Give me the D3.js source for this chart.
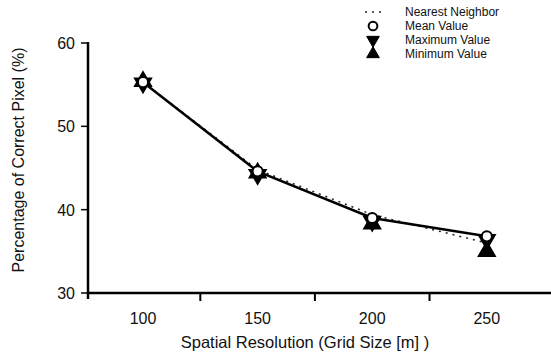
<!DOCTYPE html>
<html>
<head>
<meta charset="utf-8">
<script src="https://cdn.jsdelivr.net/npm/d3@7"></script>
<style>
  body { margin: 0; background: #fff; }
  text { font-family: Arial, "Liberation Sans", sans-serif; fill: #111; }
</style>
</head>
<body>
<div id="chart"></div>
<script>
// data
var gridSize = [100, 150, 200, 250];
var nearestNeighbor = [55.3, 44.8, 39.4, 36.0];
var meanValue = [55.3, 44.6, 39.0, 36.8];
var maximumValue = [55.2, 44.2, 38.6, 36.4];
var minimumValue = [55.4, 44.4, 38.3, 35.0];
var yTicks = [30, 40, 50, 60];
var xTicks = [100, 150, 200, 250];
var xMinor = [125, 175, 225];
var legendNames = ["Nearest Neighbor", "Mean Value", "Maximum Value", "Minimum Value"];

var w = 551, h = 359;

var svg = d3.select("#chart").append("svg")
  .attr("width", w).attr("height", h);

var x = d3.scaleLinear().domain([76, 278]).range([88, 551]);
var y = d3.scaleLinear().domain([30, 60]).range([293, 43]);

// axes
svg.append("line")
  .attr("x1", x(76)).attr("x2", x(278))
  .attr("y1", y(30)).attr("y2", y(30))
  .attr("stroke", "#000").attr("stroke-width", 2.5);
svg.append("line")
  .attr("x1", x(76)).attr("x2", x(76))
  .attr("y1", y(60) - 1).attr("y2", y(30) + 6)
  .attr("stroke", "#000").attr("stroke-width", 2.5);

// y ticks + labels
svg.selectAll(".ytick").data(yTicks).enter().append("line")
  .attr("x1", x(76) - 7).attr("x2", x(76))
  .attr("y1", d => y(d)).attr("y2", d => y(d))
  .attr("stroke", "#000").attr("stroke-width", 1.5);
svg.selectAll(".ylab").data(yTicks).enter().append("text")
  .attr("x", x(76) - 13).attr("y", d => y(d) + 6)
  .attr("text-anchor", "end").attr("font-size", 16)
  .text(d => d);

// x labels, minor ticks sit between them
svg.selectAll(".xtick").data(xMinor).enter().append("line")
  .attr("x1", d => x(d)).attr("x2", d => x(d))
  .attr("y1", y(30)).attr("y2", y(30) + 8)
  .attr("stroke", "#000").attr("stroke-width", 2);
svg.selectAll(".xlab").data(xTicks).enter().append("text")
  .attr("x", d => x(d)).attr("y", 324)
  .attr("text-anchor", "middle").attr("font-size", 16)
  .text(d => d);

// axis titles
svg.append("text")
  .attr("x", 305).attr("y", 348)
  .attr("text-anchor", "middle").attr("font-size", 16.5)
  .text("Spatial Resolution (Grid Size [m] )");
svg.append("text")
  .attr("transform", "translate(24,160) rotate(-90)")
  .attr("text-anchor", "middle").attr("font-size", 16)
  .text("Percentage of Correct Pixel (%)");

// lines
var lineGen = d3.line()
  .x((d, i) => x(gridSize[i]))
  .y(d => y(d));

svg.append("path")
  .attr("d", lineGen(nearestNeighbor))
  .attr("fill", "none").attr("stroke", "#222")
  .attr("stroke-width", 1.5).attr("stroke-dasharray", "2,5");
svg.append("path")
  .attr("d", lineGen(meanValue))
  .attr("fill", "none").attr("stroke", "#000")
  .attr("stroke-width", 2.5);

// markers
var sym = {
  mean: d3.symbol().type(d3.symbolCircle).size(80),
  max: d3.symbol().type(d3.symbolTriangle).size(110),
  min: d3.symbol().type(d3.symbolTriangle).size(110)
};

function drawMarks(vals, kind) {
  svg.append("g").selectAll("path").data(vals).enter().append("path")
    .attr("d", sym[kind]())
    .attr("transform", (d, i) => "translate(" + x(gridSize[i]) + "," + y(d) + ")" + (kind == "max" ? " rotate(180)" : ""))
    .attr("fill", kind == "mean" ? "#fff" : "#000")
    .attr("stroke", "#000").attr("stroke-width", 2);
}
drawMarks(minimumValue, "min");
drawMarks(maximumValue, "max");
drawMarks(meanValue, "mean");

// legend
var lg = svg.append("g").attr("transform", "translate(373,0)");
var rowY = [12, 26, 40, 54];
lg.append("line")
  .attr("x1", -8).attr("x2", 8).attr("y1", rowY[0]).attr("y2", rowY[0])
  .attr("stroke", "#222").attr("stroke-width", 1.5).attr("stroke-dasharray", "2,5");
lg.append("path").attr("d", d3.symbol().type(d3.symbolCircle).size(60)()).attr("transform", "translate(0," + rowY[1] + ")")
  .attr("fill", "#fff").attr("stroke", "#000").attr("stroke-width", 2);
lg.append("path").attr("d", d3.symbol().type(d3.symbolTriangle).size(70)()).attr("transform", "translate(0," + rowY[2] + ") rotate(180)")
  .attr("fill", "#000").attr("stroke", "#000");
lg.append("path").attr("d", d3.symbol().type(d3.symbolTriangle).size(70)()).attr("transform", "translate(0," + rowY[3] + ")")
  .attr("fill", "#000").attr("stroke", "#000");
lg.selectAll("text").data(legendNames).enter().append("text")
  .attr("x", 32).attr("y", (d, i) => rowY[i] + 4)
  .attr("font-size", 12)
  .text(d => d);
</script>
</body>
</html>
